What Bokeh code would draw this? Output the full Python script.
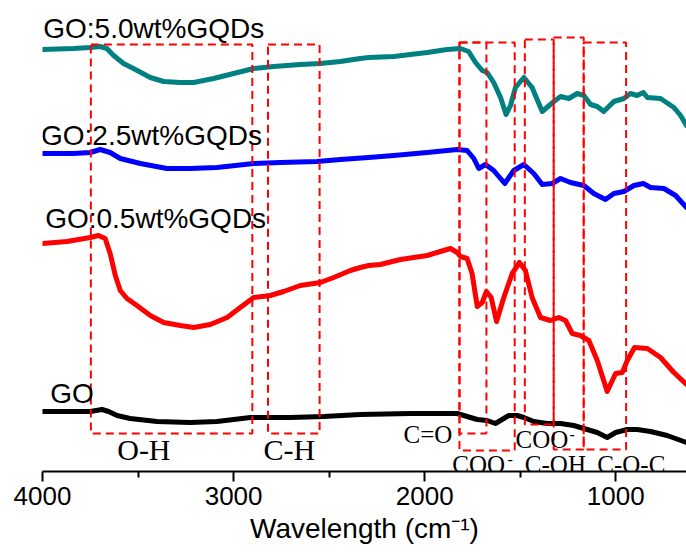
from bokeh.plotting import figure
from bokeh.models import Range1d, FixedTicker, Label
from bokeh.embed import file_html
from bokeh.resources import INLINE

# ---- data (wavenumber cm-1, transmittance a.u., curves offset) ----
wn_go = [4000, 3838, 3750, 3689, 3654, 3610, 3541, 3401, 3227, 3087, 2912, 2703, 2529, 2337, 2075,
         1830, 1778, 1725, 1673, 1630, 1595, 1560, 1516, 1481, 1429, 1359, 1289, 1220, 1167, 1097,
         1045, 1001, 940, 888, 818, 731, 630]
t_go = [60, 60, 60, 62, 60, 56, 53, 50, 49, 50, 54, 54, 55, 57, 58,
        58, 55, 52, 51, 48, 52, 56, 56, 54, 50, 48, 48, 46, 43, 39,
        34, 39, 42, 42, 40, 36, 29]

wn_05 = [4000, 3872, 3750, 3707, 3672, 3646, 3619, 3593, 3558, 3506, 3436, 3366, 3279, 3209, 3122,
         3034, 2965, 2895, 2808, 2738, 2651, 2546, 2476, 2389, 2337, 2293, 2232, 2127, 1987, 1918,
         1865, 1830, 1813, 1778, 1752, 1725, 1699, 1677, 1652, 1624, 1586, 1542, 1504, 1473, 1438,
         1394, 1342, 1298, 1263, 1228, 1185, 1141, 1097, 1045, 1001, 966, 940, 902, 835, 766, 696, 630]
t_05 = [228, 230, 234, 236, 233, 218, 196, 181, 173, 166, 156, 149, 146, 144, 147,
        154, 164, 174, 176, 180, 186, 189, 194, 201, 204, 206, 207, 212, 216, 220,
        223, 219, 215, 213, 198, 165, 169, 180, 174, 150, 174, 198, 209, 201, 174,
        154, 151, 154, 151, 138, 136, 131, 111, 80, 98, 99, 111, 124, 123, 114, 99, 87]

wn_25 = [4000, 3838, 3750, 3698, 3646, 3593, 3488, 3349, 3227, 3087, 2895, 2755, 2563, 2441, 2293,
         2162, 1987, 1830, 1778, 1743, 1717, 1682, 1639, 1581, 1534, 1481, 1429, 1385, 1333, 1289,
         1237, 1167, 1115, 1054, 1010, 958, 905, 856, 818, 748, 687, 630]
t_25 = [318, 318, 319, 322, 319, 313, 308, 303, 303, 304, 308, 309, 310, 312, 314,
        316, 319, 322, 321, 313, 303, 307, 301, 288, 301, 307, 298, 287, 288, 293,
        289, 286, 278, 272, 278, 280, 286, 288, 284, 283, 276, 264]

wn_50 = [4000, 3838, 3750, 3698, 3663, 3628, 3576, 3524, 3436, 3366, 3279, 3209, 3105, 3000, 2895,
         2790, 2651, 2546, 2441, 2337, 2293, 2162, 1987, 1883, 1813, 1770, 1734, 1699, 1673, 1639,
         1603, 1574, 1551, 1525, 1481, 1438, 1385, 1324, 1289, 1246, 1202, 1167, 1132, 1097, 1063,
         1010, 958, 923, 888, 856, 835, 766, 696, 661, 630]
t_50 = [422, 423, 424, 425, 423, 416, 408, 403, 394, 390, 389, 389, 393, 398, 403,
        405, 407, 408, 410, 413, 414, 415, 419, 422, 423, 420, 409, 401, 399, 389,
        374, 357, 366, 384, 394, 384, 360, 370, 375, 373, 378, 376, 367, 365, 360,
        370, 373, 378, 376, 379, 374, 373, 364, 356, 346]

series_names = ["GO", "GO:0.5wt%GQDs", "GO:2.5wt%GQDs", "GO:5.0wt%GQDs"]
series_colors = ["#000000", "#ff0000", "#0000ff", "#008080"]

# assignment bands (wavenumber limits, vertical extent in a.u.)
band_names = ["O-H", "C-H", "C=O", "COO-", "COO-", "C-OH", "C-O-C"]
band_left = [3747, 2820, 1818, 1818, 1476, 1325, 1168]
band_right = [2902, 2550, 1677, 1529, 1325, 1168, 946]
band_bottom = [38, 38, 38, 21, 47, 22, 22]
band_top = [427, 427, 429, 429, 432, 434, 429]

major_ticks = [4000, 3000, 2000, 1000]
minor_ticks = [3500, 2500, 1500]

p = figure(width=686, height=554, output_backend="svg", toolbar_location=None,
           x_range=Range1d(4000, 630), y_range=Range1d(0, 471),
           y_axis_location=None,
           min_border_left=42, min_border_right=0, min_border_top=0, min_border_bottom=83)
p.xgrid.visible = False
p.ygrid.visible = False
p.outline_line_color = None
p.background_fill_color = "white"
p.border_fill_color = "white"

ax = p.xaxis[0]
ax.ticker = FixedTicker(ticks=major_ticks, minor_ticks=minor_ticks)
ax.axis_line_width = 2
ax.axis_line_color = "black"
ax.major_tick_line_width = 2
ax.minor_tick_line_width = 2
ax.major_tick_out = 10
ax.major_tick_in = 0
ax.minor_tick_out = 6
ax.minor_tick_in = 0
ax.major_label_text_font = "Liberation Sans"
ax.major_label_text_font_size = "26px"
ax.major_label_text_color = "black"
ax.major_label_standoff = 5
ax.axis_label = "Wavelength (cm\u207b\u00b9)"
ax.axis_label_text_font = "Liberation Sans"
ax.axis_label_text_font_size = "28px"
ax.axis_label_text_font_style = "normal"
ax.axis_label_text_color = "black"
ax.axis_label_standoff = 5

for wn, t, c in zip([wn_go, wn_05, wn_25, wn_50], [t_go, t_05, t_25, t_50], series_colors):
    p.line(wn, t, line_color=c, line_width=5, line_join="round", line_cap="round")

p.quad(left=band_left, right=band_right, bottom=band_bottom, top=band_top,
       fill_alpha=0, line_color="#ff0000", line_width=2, line_dash="8 5")

# series labels (left edge, vertical centre)
series_label_pos = [(3960, 78), (3986, 253), (4008, 336), (3996, 443)]
for name, (lx, ly) in zip(series_names, series_label_pos):
    p.add_layout(Label(x=lx, y=ly, text=name, text_font="Liberation Sans",
                       text_font_size="28px", text_color="black", text_baseline="middle"))

# band labels
band_label_specs = [("O-H", 3609, 22.5, "30px"), ("C-H", 2844, 22.5, "30px"),
                    ("C=O", 2111, 37, "25px"), ("COO", 1856, 7, "25px"),
                    ("C-OH", 1476, 7, "25px"), ("C-O-C", 1097, 7, "25px"),
                    ("COO", 1525, 32, "25px"),
                    ("-", 1567, 12.5, "16px"), ("-", 1242, 37.5, "16px")]
for txt, lx, ly, fs in band_label_specs:
    p.add_layout(Label(x=lx, y=ly, text=txt, text_font="Liberation Serif",
                       text_font_size=fs, text_color="black", text_baseline="middle"))

open("out.html", "w").write(file_html(p, INLINE))
